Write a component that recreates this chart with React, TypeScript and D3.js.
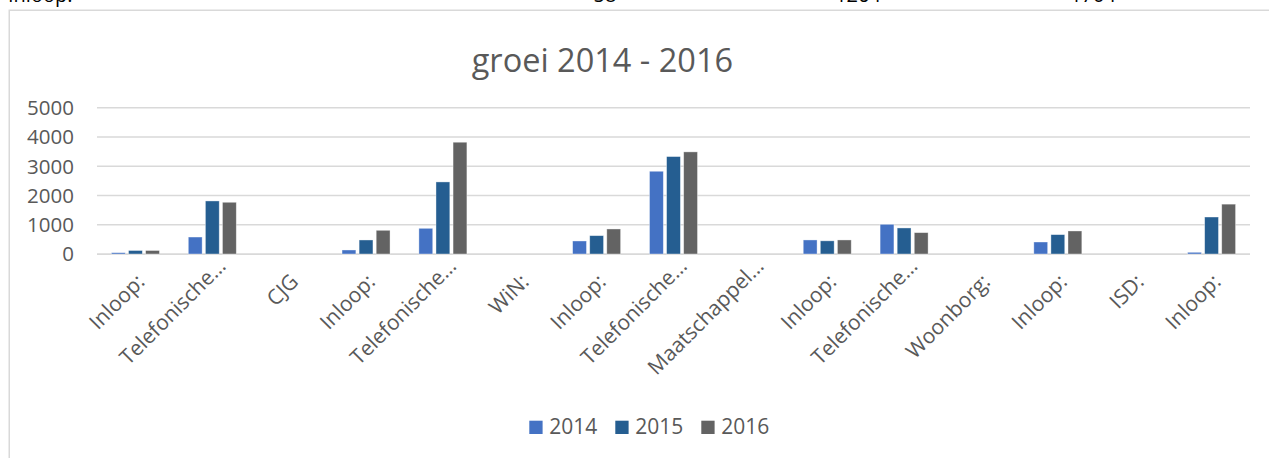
import * as d3 from 'd3';

const categories = [
  'Inloop:', 'Telefonische…', 'CJG', 'Inloop:', 'Telefonische…', 'WiN:', 'Inloop:',
  'Telefonische…', 'Maatschappel…', 'Inloop:', 'Telefonische…', 'Woonborg:', 'Inloop:', 'ISD:', 'Inloop:',
];
const seriesNames = ['2014', '2015', '2016'];
const values2014 = [45, 580, 0, 137, 878, 0, 445, 2828, 0, 480, 1015, 0, 410, 0, 58];
const values2015 = [120, 1813, 0, 479, 2463, 0, 627, 3330, 0, 450, 890, 0, 662, 0, 1264];
const values2016 = [120, 1768, 0, 810, 3820, 0, 855, 3490, 0, 480, 730, 0, 787, 0, 1704];
const yTicks = [0, 1000, 2000, 3000, 4000, 5000];
const topRow = ['Inloop:', '58', '1264', '1704'];

const colors = ['#4472C4', '#255E91', '#636363'];
const font = '"Open Sans", sans-serif';

export default function App() {
  const width = 1269;
  const height = 458;
  const plot = { left: 97, right: 1250, top: 107.7, bottom: 254 };

  const series = [values2014, values2015, values2016];
  const idx = categories.map((_, i) => i);

  const x0 = d3.scaleBand<number>().domain(idx).range([plot.left, plot.right]).padding(0);
  const bw = x0.bandwidth();
  const groupW = 48;
  const x1 = d3.scaleBand<number>()
    .domain([0, 1, 2])
    .range([(bw - groupW) / 2, (bw + groupW) / 2])
    .paddingInner(0.19)
    .paddingOuter(0);
  const y = d3.scaleLinear().domain([0, 5000]).range([plot.bottom, plot.top]);

  const legendStep = 86;
  const legendStart = 529.3;

  return (
    <svg width={width} height={height} style={{ position: 'absolute', left: 0, top: 0, background: '#fff' }}>
      {/* piece of the table above the chart */}
      <g fontFamily={font} fontSize={20} fill="#000">
        <text x={8} y={1.5}>{topRow[0]}</text>
        <text x={605} y={1.5} textAnchor="middle">{topRow[1]}</text>
        <text x={858} y={1.5} textAnchor="middle">{topRow[2]}</text>
        <text x={1093} y={1.5} textAnchor="middle">{topRow[3]}</text>
      </g>

      <rect x={9.25} y={10.25} width={1300} height={500} fill="#fff" stroke="#D9D9D9" strokeWidth={1.5} />

      <text x={602.4} y={72} textAnchor="middle" fontFamily={font} fontSize={32.5} fill="#595959">
        groei 2014 - 2016
      </text>

      {/* gridlines + y labels */}
      {yTicks.map(t => (
        <g key={t}>
          <line x1={plot.left} x2={plot.right} y1={y(t)} y2={y(t)} stroke="#D9D9D9" strokeWidth={t === 0 ? 1.75 : 1.5} />
          <text x={74} y={y(t)} dy="0.36em" textAnchor="end" fontFamily={font} fontSize={20.5} fill="#595959">
            {t}
          </text>
        </g>
      ))}

      {/* bars */}
      {idx.map(i => (
        <g key={i} transform={`translate(${x0(i)},0)`}>
          {series.map((vals, s) => (
            vals[i] > 0 ? (
              <rect
                key={s}
                x={x1(s)}
                y={y(vals[i])}
                width={x1.bandwidth()}
                height={y(0) - y(vals[i])}
                fill={colors[s]}
                stroke="#fff"
                strokeOpacity={0.5}
                strokeWidth={0.75}
              />
            ) : null
          ))}
        </g>
      ))}

      {/* x labels */}
      {idx.map(i => {
        const cx = (x0(i) ?? 0) + bw / 2;
        const truncated = categories[i].endsWith('…');
        return (
          <text
            key={i}
            transform={`translate(${cx + 10.5},283) rotate(-45)`}
            dx={truncated ? 14 : 0}
            dy={truncated ? -8 : 0}
            textAnchor="end"
            fontFamily={font}
            fontSize={21}
            fill="#595959"
          >
            {categories[i]}
          </text>
        );
      })}

      {/* legend */}
      {seriesNames.map((name, s) => (
        <g key={name} transform={`translate(${legendStart + s * legendStep},0)`}>
          <rect x={0} y={420.7} width={13.3} height={13.3} fill={colors[s]} />
          <text x={20} y={434.2} fontFamily={font} fontSize={21} fill="#595959">{name}</text>
        </g>
      ))}
    </svg>
  );
}
